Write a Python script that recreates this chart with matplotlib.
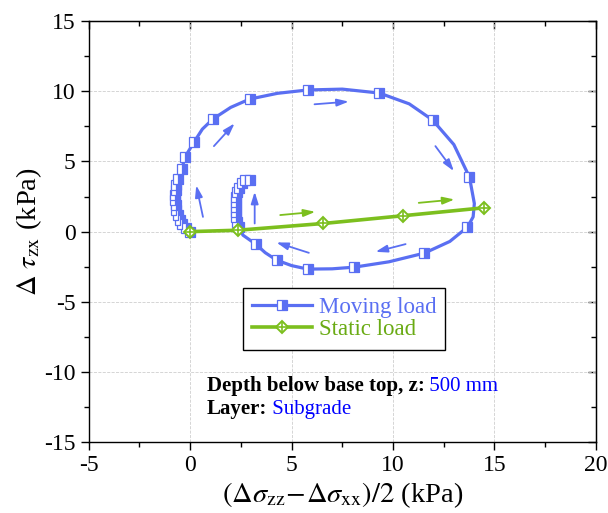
"""
Stress path: moving load vs static load, subgrade at z = 500 mm
"""
import matplotlib
matplotlib.use('Agg')
import matplotlib.pyplot as plt
from matplotlib.lines import Line2D
from matplotlib.ticker import MultipleLocator

plt.rcParams['font.family'] = ['Liberation Serif', 'DejaVu Serif']
plt.rcParams['mathtext.fontset'] = 'stix'
plt.rcParams['axes.unicode_minus'] = False

BLUE  = '#5a6ff2'
GREEN = '#7cbf1e'

# moving load: marked points, in path order (kPa)
moving_x = [0.0, -0.22, -0.38, -0.50, -0.61, -0.68, -0.72, -0.74, -0.74, -0.71,
            -0.68, -0.62, -0.42, -0.25, 0.20, 1.12, 2.93, 5.80, 9.33, 11.95,
            13.77, 13.67, 11.55, 8.10, 5.79, 4.26, 3.23, 2.42, 2.33, 2.28,
            2.25, 2.25, 2.25, 2.28, 2.33, 2.42, 2.54, 2.72, 2.95]
moving_y = [0.0, 0.23, 0.51, 0.82, 1.18, 1.53, 1.89, 2.25, 2.60, 2.96,
            3.31, 3.72, 4.43, 5.33, 6.40, 8.02, 9.44, 10.09, 9.87, 7.95,
            3.88, 0.32, -1.53, -2.53, -2.67, -2.03, -0.89, 0.34, 0.70, 1.05,
            1.41, 1.77, 2.12, 2.48, 2.84, 3.12, 3.43, 3.67, 3.67]

# moving load: traced line (marked points plus points read between them)
curve_x = [0.0, -0.22, -0.38, -0.50, -0.61, -0.68, -0.72, -0.74, -0.74, -0.71,
           -0.68, -0.62, -0.42, -0.25, 0.20, 0.60, 1.12, 2.00, 2.93, 4.30,
           5.80, 7.50, 9.33, 10.80, 11.95, 13.00, 13.77, 14.01, 13.95, 13.67,
           12.80, 11.55, 9.80, 8.10, 7.00, 5.79, 5.00, 4.26, 3.70, 3.23,
           2.60, 2.42, 2.33, 2.28, 2.25, 2.25, 2.25, 2.28, 2.33, 2.42,
           2.54, 2.72, 2.95]
curve_y = [0.0, 0.23, 0.51, 0.82, 1.18, 1.53, 1.89, 2.25, 2.60, 2.96,
           3.31, 3.72, 4.43, 5.33, 6.40, 7.30, 8.02, 8.85, 9.44, 9.85,
           10.09, 10.15, 9.87, 9.10, 7.95, 6.20, 3.88, 2.00, 1.05, 0.32,
           -0.70, -1.53, -2.15, -2.53, -2.65, -2.67, -2.42, -2.03, -1.50, -0.89,
           -0.25, 0.34, 0.70, 1.05, 1.41, 1.77, 2.12, 2.48, 2.84, 3.12,
           3.43, 3.67, 3.67]

# static load
static_x = [0.0, 2.36, 6.57, 10.48, 14.50]
static_y = [0.0, 0.10, 0.58, 1.13, 1.70]

# direction arrows: (tail x, tail y, head x, head y)
blue_arrows = [(0.63, 1.05, 0.30, 3.30),
               (1.17, 6.09, 2.19, 7.71),
               (6.13, 9.07, 7.82, 9.26),
               (12.09, 6.09, 13.00, 4.31),
               (10.62, -0.89, 9.14, -1.44),
               (5.85, -1.51, 4.25, -0.77),
               (3.18, 0.58, 3.18, 2.84)]
green_arrows = [(4.44, 1.18, 6.17, 1.41),
                (11.27, 2.05, 13.03, 2.29)]

fig = plt.figure(figsize=(6.08, 5.13), dpi=100)
ax = fig.add_axes([0.146, 0.138, 0.834, 0.821])

ax.grid(True, which='major', ls='--', lw=0.6, color='#cfcfcf', zorder=0)
ax.set_axisbelow(True)

ax.plot(curve_x, curve_y, color=BLUE, lw=2.3, zorder=3)
ax.plot(moving_x, moving_y, ls='none', marker='s', ms=6.5, fillstyle='right',
        mfc=BLUE, mfcalt='white', mec=BLUE, mew=0.9, zorder=4)

ax.plot(static_x, static_y, color=GREEN, lw=2.6, marker='D', ms=6.6,
        mfc='white', mec=GREEN, mew=1.4, zorder=5)
ax.plot(static_x, static_y, ls='none', marker='+', ms=9.3, mec=GREEN,
        mew=1.2, zorder=6)

arrow_style = '-|>,head_length=0.7,head_width=0.22'
for x0, y0, x1, y1 in blue_arrows:
    ax.annotate('', xy=(x1, y1), xytext=(x0, y0),
                arrowprops=dict(arrowstyle=arrow_style, color=BLUE, lw=1.3,
                                shrinkA=0, shrinkB=0),
                zorder=4)
for x0, y0, x1, y1 in green_arrows:
    ax.annotate('', xy=(x1, y1), xytext=(x0, y0),
                arrowprops=dict(arrowstyle=arrow_style, color=GREEN, lw=1.3,
                                shrinkA=0, shrinkB=0),
                zorder=4)

ax.set_xlim(-5, 20)
ax.set_ylim(-15, 15)
ax.xaxis.set_major_locator(MultipleLocator(5))
ax.xaxis.set_minor_locator(MultipleLocator(2.5))
ax.yaxis.set_major_locator(MultipleLocator(5))
ax.yaxis.set_minor_locator(MultipleLocator(2.5))
ax.tick_params(which='major', direction='out', length=6, width=1, labelsize=17)
ax.tick_params(which='minor', direction='out', length=3.5, width=1)
for sp in ax.spines.values():
    sp.set_linewidth(1.0)

top = ax.secondary_xaxis('top')
top.xaxis.set_major_locator(MultipleLocator(5))
top.xaxis.set_minor_locator(MultipleLocator(2.5))
top.tick_params(which='major', direction='in', length=6, width=1, labeltop=False)
top.tick_params(which='minor', direction='in', length=3.5, width=1)
right = ax.secondary_yaxis('right')
right.yaxis.set_major_locator(MultipleLocator(5))
right.yaxis.set_minor_locator(MultipleLocator(2.5))
right.tick_params(which='major', direction='in', length=6, width=1, labelright=False)
right.tick_params(which='minor', direction='in', length=3.5, width=1)

ax.set_xlabel(r'$(\Delta\sigma_{\rm zz}\!-\!\Delta\sigma_{\rm xx})/2$ (kPa)', fontsize=20.5, labelpad=3)
ax.set_ylabel(r'$\Delta\ \tau_{\rm zx}$ (kPa)', fontsize=20.5, labelpad=0)

h_move = Line2D([], [], color=BLUE, lw=2.3, marker='s', ms=6.5, fillstyle='right',
                mfc=BLUE, mfcalt='white', mec=BLUE, mew=0.9)
h_stat = Line2D([], [], color=GREEN, lw=2.6, marker='D', ms=6.6, mfc='white',
                mec=GREEN, mew=1.4)
h_plus = Line2D([], [], ls='none', marker='+', ms=9.3, mec=GREEN, mew=1.2)
leg = ax.legend([h_move, (h_stat, h_plus)], ['Moving load', 'Static load'],
                loc='upper left', bbox_to_anchor=(0.304, 0.366), fontsize=16.5,
                frameon=True, fancybox=False, edgecolor='black', framealpha=1,
                handlelength=2.6, handletextpad=0.3, borderpad=0.4,
                labelspacing=0.05, numpoints=1, borderaxespad=0)
leg.get_frame().set_linewidth(1.0)
leg.texts[0].set_color(BLUE)
leg.texts[1].set_color('#6aab14')

t1 = ax.text(0.81, -11.0, 'Depth below base top, z:', fontsize=15,
             fontweight='bold', va='center', ha='left')
ax.annotate(' 500 mm', xy=(1, 0), xycoords=t1, va='bottom', ha='left',
            fontsize=15, color='#0000ff')
t2 = ax.text(0.81, -12.6, 'Layer:', fontsize=15, fontweight='bold',
             va='center', ha='left')
ax.annotate(' Subgrade', xy=(1, 0), xycoords=t2, va='bottom', ha='left',
            fontsize=15, color='#0000ff')

fig.savefig('out.png', dpi=100, facecolor='white')
